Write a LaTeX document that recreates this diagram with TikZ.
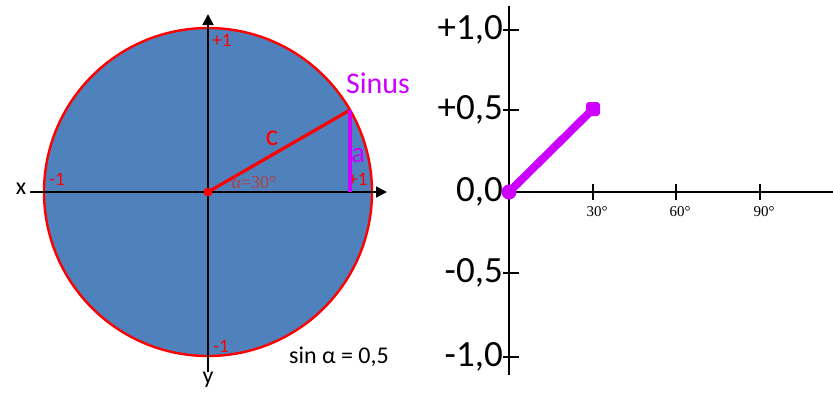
\documentclass[tikz,border=0pt]{standalone}
\usepackage{fontspec}
\setmainfont{Carlito}
\newfontfamily\serifm{Liberation Serif}
\usetikzlibrary{arrows.meta}
\definecolor{disc}{HTML}{4F81BD}
\definecolor{sinpurple}{HTML}{CC00FF}
\definecolor{alphared}{HTML}{B0403C}
\tikzset{
  axisline/.style={line width=1.8pt, black},
  tickmark/.style={line width=1.8pt, black},
  redlabel/.style={text=red, font=\fontsize{19}{21}\selectfont, inner sep=0pt},
  ylab/.style={font=\fontsize{37}{40}\selectfont, anchor=east, inner sep=0pt},
  xlab/.style={font=\serifm\fontsize{15}{17}\selectfont, inner sep=0pt},
  enddot/.style={circle, fill=sinpurple, minimum size=15pt, inner sep=0pt},
}
\begin{document}
\begin{tikzpicture}[x=1pt,y=-1pt]
\useasboundingbox (0,0) rectangle (833,400);
% left: unit circle
\coordinate (O) at (208,192);
\draw[red, line width=2.4pt, fill=disc] (O) circle (164);
\coordinate (xs) at (30,192);
\coordinate (xe) at (387,192);
\coordinate (ys) at (208,372);
\coordinate (ye) at (208,14);
\draw[axisline, -{Triangle[length=11pt,width=11pt]}] (xs) -- (xe);
\draw[axisline, -{Triangle[length=11pt,width=11pt]}] (ys) -- (ye);
\node[font=\fontsize{24}{26}\selectfont] (xl) at (21,189) {x};
\node[font=\fontsize{24}{26}\selectfont] (yl) at (208,380) {y};
\node[redlabel] (p1t) at (222,40) {+1};
\node[redlabel] (m1l) at (57,179) {-1};
\node[redlabel] (m1b) at (221,346) {-1};
\node[redlabel] (p1r) at (358,179) {+1};
\coordinate (P) at (350,110);
\coordinate (F) at (350,192);
\draw[red, line width=3.2pt] (O) -- (P);
\fill[red] (O) circle (4.5);
\draw[sinpurple, line width=3.2pt] (P) -- (F);
\node[text=alphared, font=\serifm\fontsize{18}{20}\selectfont, inner sep=0pt] (al) at (254,183) {α=30°};
\node[text=red, font=\fontsize{30}{32}\selectfont, inner sep=0pt] (cl) at (272,138) {c};
\node[text=sinpurple, font=\fontsize{29}{31}\selectfont, inner sep=0pt] (alab) at (358,156) {a};
\node[text=sinpurple, font=\fontsize{30}{32}\selectfont, inner sep=0pt] (sinus) at (378,83) {Sinus};
\node[font=\fontsize{24}{26}\selectfont, inner sep=0pt] (eq) at (339,357) {sin α = 0,5};
% right: graph
\coordinate (vt) at (509,6);
\coordinate (vb) at (509,375);
\coordinate (hs) at (509,192);
\coordinate (he) at (833,192);
\draw[axisline] (vt) -- (vb);
\draw[axisline] (hs) -- (he);
\foreach \yy/\lab/\nm in {30/{+1,0}/a, 110/{+0,5}/b, 273/{-0,5}/d, 357/{-1,0}/e}{
  \draw[tickmark] (503,\yy) -- (519,\yy);
  \node[ylab] (ytick\nm) at (503,\yy) {\lab};
}
\node[ylab] (ytickc) at (503,192) {0,0};
\draw[tickmark] (503,192) -- (509,192);
\foreach \xx/\lab/\nm in {593/30°/a, 676/60°/b, 760/90°/c}{
  \draw[tickmark] (\xx,184) -- (\xx,200);
  \node[xlab] (xtick\nm) at (\xx+4,212) {\lab};
}
\node[enddot] (d0) at (509,192) {};
\node[enddot, rounded corners=3pt, rectangle, minimum size=14pt] (d1) at (593,109) {};
\draw[sinpurple, line width=8pt, line cap=round] (d0.center) -- (d1.center);
\end{tikzpicture}
\end{document}
